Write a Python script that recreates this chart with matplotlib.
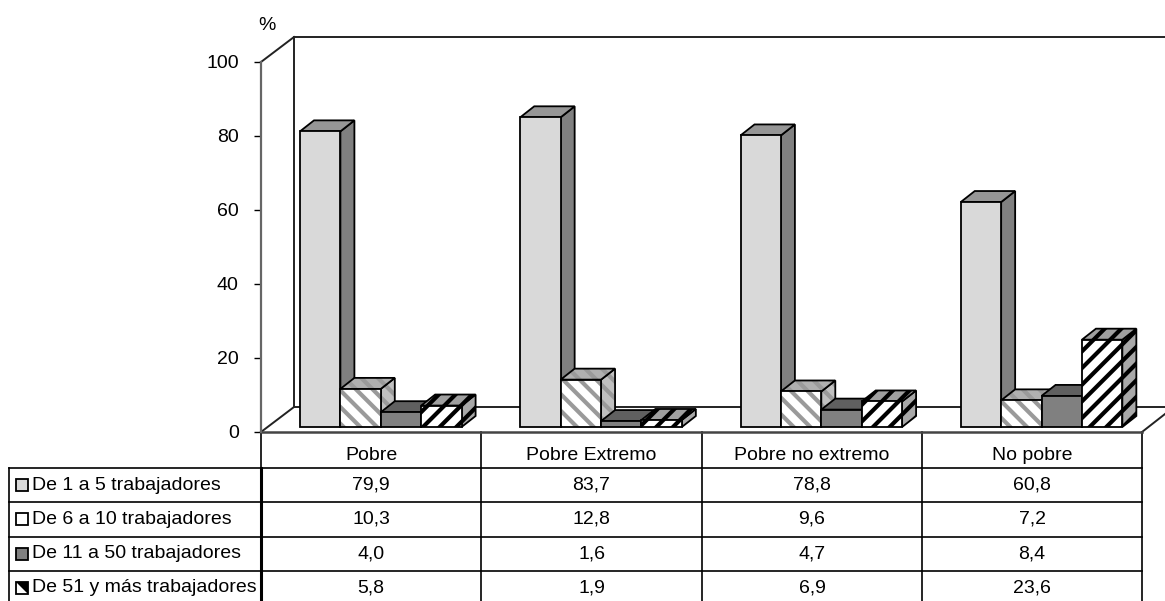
import matplotlib
matplotlib.use("Agg")
import matplotlib.pyplot as plt
from matplotlib.patches import Polygon, Rectangle

categories = ['Pobre', 'Pobre Extremo', 'Pobre no extremo', 'No pobre']
series_names = ['De 1 a 5 trabajadores', 'De 6 a 10 trabajadores',
                'De 11 a 50 trabajadores', 'De 51 y más trabajadores']
v1 = [79.9, 83.7, 78.8, 60.8]
v2 = [10.3, 12.8, 9.6, 7.2]
v3 = [4.0, 1.6, 4.7, 8.4]
v4 = [5.8, 1.9, 6.9, 23.6]
series = [v1, v2, v3, v4]
yticks = [0, 20, 40, 60, 80, 100]

# face, top, side, hatch colour, hatch
styles = [
    ('#d9d9d9', '#969696', '#808080', None, None),
    ('white', '#b0b0b0', '#c0c0c0', '#9a9a9a', '\\\\'),
    ('#808080', '#606060', '#707070', None, None),
    ('white', '#a0a0a0', '#a8a8a8', 'black', '//'),
]

plt.rcParams['font.family'] = ['Liberation Sans', 'DejaVu Sans']
plt.rcParams['hatch.linewidth'] = 3.0

W, H = 1165, 601
fig = plt.figure(figsize=(W / 100, H / 100), dpi=100)

# overlay in pixels for the table grid
px = fig.add_axes([0, 0, 1, 1])
px.set_xlim(0, W)
px.set_ylim(H, 0)
px.axis('off')

# chart axes: x in categories, y in %
left, right, y0, y100 = 261, 1142, 432, 62
ax = fig.add_axes([left / W, 1 - y0 / H, (right - left) / W, (y0 - y100) / H])
ax.set_xlim(0, 4)
ax.set_ylim(0, 100)
ax.patch.set_alpha(0)
ux = 4 / (right - left)   # data units per pixel
uy = 100 / (y0 - y100)

for s in ['top', 'right', 'bottom']:
    ax.spines[s].set_visible(False)
ax.spines['left'].set_color('#666666')
ax.spines['left'].set_linewidth(1.6)
ax.set_yticks(yticks)
ax.set_yticklabels([str(t) for t in yticks], fontsize=14)
ax.tick_params(axis='y', length=5, width=1, pad=11)
ax.set_xticks([0.5, 1.5, 2.5, 3.5])
ax.set_xticklabels(categories, fontsize=14)
ax.tick_params(axis='x', length=0, pad=11)

# walls and floor
wall_dx, wall_dy = 33 * ux, 25 * uy
line_kw = dict(color='#222222', lw=1.4, clip_on=False, zorder=1)
ax.plot([0, wall_dx], [100, 100 + wall_dy], **line_kw)
ax.plot([wall_dx, wall_dx], [wall_dy, 100 + wall_dy], **line_kw)
ax.plot([wall_dx, (W - left) * ux], [100 + wall_dy] * 2, **line_kw)
ax.plot([wall_dx, (W - left) * ux], [wall_dy] * 2, **line_kw)
ax.plot([0, wall_dx], [0, wall_dy], **line_kw)
ax.plot([4, (W - left) * ux], [0, 18 * uy], **line_kw)
ax.plot([0, 4], [0, 0], color='#444444', lw=1.8, clip_on=False, zorder=1)

# 3d style bars
bar_w = 40.4 * ux
dx, dy = 14 * ux, 11 * uy
base = 5 * uy
start = 39 * ux


def poly(pts, face, hatch_col, hatch, z):
    if hatch:
        ax.add_patch(Polygon(pts, facecolor=face, edgecolor=hatch_col, hatch=hatch,
                             lw=0, clip_on=False, zorder=z))
        ax.add_patch(Polygon(pts, fill=False, edgecolor='black', lw=1.3,
                             clip_on=False, zorder=z))
    else:
        ax.add_patch(Polygon(pts, facecolor=face, edgecolor='black', lw=1.3,
                             clip_on=False, zorder=z))


for g in range(len(categories)):
    for k, vals in enumerate(series):
        face, top, side, hc, h = styles[k]
        x0 = g + start + k * bar_w
        x1 = x0 + bar_w
        y_b = base
        y_t = base + vals[g]
        z = 3 + g + k * 0.1
        poly([(x1, y_b), (x1 + dx, y_b + dy), (x1 + dx, y_t + dy), (x1, y_t)], side, hc, h, z)
        poly([(x0, y_t), (x1, y_t), (x1 + dx, y_t + dy), (x0 + dx, y_t + dy)], top, hc, h, z)
        poly([(x0, y_b), (x1, y_b), (x1, y_t), (x0, y_t)], face, hc, h, z)

px.text(267, 25, '%', fontsize=14, ha='center', va='center')

# data table
col_x = [261, 481, 702, 922, 1142]
row_y = [468, 502, 537, 571]
grid = dict(color='black', lw=1.2)
for x in col_x:
    px.plot([x, x], [432, H], **grid)
px.plot([261, 261], [468, H], color='black', lw=2.2)
px.plot([9, 9], [468, H], **grid)
for y in row_y:
    px.plot([9, 1142], [y, y], **grid)

for r, name in enumerate(series_names):
    yc = row_y[r] + 17
    face, top, side, hc, h = styles[r]
    px.add_patch(Rectangle((16, yc - 6), 12, 12, facecolor=face, edgecolor='black', lw=1.3))
    if r == 3:
        px.add_patch(Polygon([(16, yc - 6), (28, yc - 6), (28, yc + 6)], facecolor='black', lw=0))
    px.text(32, yc, name, fontsize=14, ha='left', va='center')
    for c in range(len(categories)):
        txt = f'{series[r][c]:.1f}'.replace('.', ',')
        px.text((col_x[c] + col_x[c + 1]) / 2, yc, txt, fontsize=14, ha='center', va='center')

fig.savefig('out.png', dpi=100)
